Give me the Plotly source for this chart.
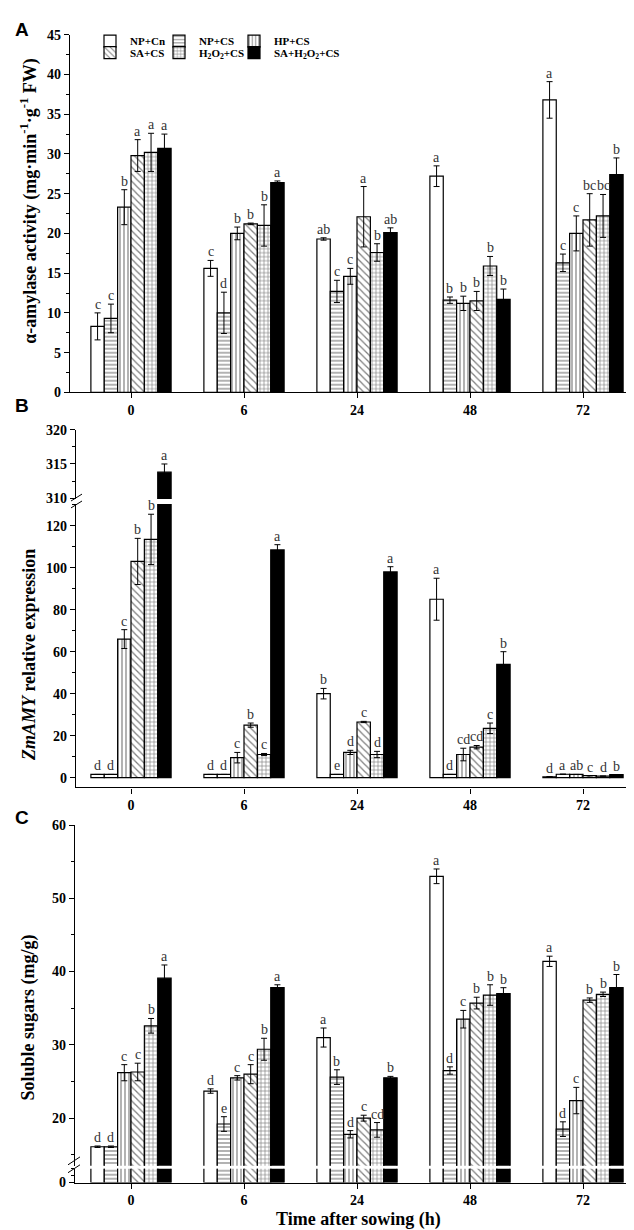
import plotly.graph_objects as go

# ---------------- data ----------------
times = ["0", "6", "24", "48", "72"]
treatments = ["NP+Cn", "NP+CS", "HP+CS", "SA+CS",
              "H<sub>2</sub>O<sub>2</sub>+CS", "SA+H<sub>2</sub>O<sub>2</sub>+CS"]

# Panel A: alpha-amylase activity (mg.min-1.g-1 FW)
amy_np_cn = [8.3, 15.6, 19.3, 27.2, 36.8]
amy_np_cs = [9.3, 10.0, 12.7, 11.6, 16.3]
amy_hp_cs = [23.3, 20.0, 14.6, 11.2, 20.0]
amy_sa_cs = [29.8, 21.2, 22.1, 11.5, 21.7]
amy_h2o2_cs = [30.2, 21.0, 17.6, 15.9, 22.2]
amy_sa_h2o2_cs = [30.7, 26.4, 20.1, 11.7, 27.4]
amy_err_np_cn = [1.7, 1.0, 0.15, 1.3, 2.3]
amy_err_np_cs = [1.8, 2.6, 1.4, 0.4, 1.1]
amy_err_hp_cs = [2.2, 0.8, 1.0, 0.9, 2.2]
amy_err_sa_cs = [2.0, 0.1, 3.8, 1.2, 3.3]
amy_err_h2o2_cs = [2.4, 2.6, 1.1, 1.2, 2.7]
amy_err_sa_h2o2_cs = [1.8, 0.2, 0.6, 1.3, 2.1]
amy_let_np_cn = ["c", "c", "ab", "a", "a"]
amy_let_np_cs = ["c", "d", "c", "b", "c"]
amy_let_hp_cs = ["b", "b", "c", "b", "c"]
amy_let_sa_cs = ["a", "b", "a", "b", "bc"]
amy_let_h2o2_cs = ["a", "b", "b", "b", "bc"]
amy_let_sa_h2o2_cs = ["a", "a", "ab", "b", "b"]

# Panel B: ZmAMY relative expression
zm_np_cn = [1.5, 1.5, 40.0, 85.0, 0.4]
zm_np_cs = [1.5, 1.5, 1.5, 1.5, 1.6]
zm_hp_cs = [66.0, 9.5, 12.0, 11.0, 1.5]
zm_sa_cs = [103.0, 25.0, 26.5, 14.5, 0.9]
zm_h2o2_cs = [113.5, 11.0, 11.0, 23.5, 0.7]
zm_sa_h2o2_cs = [313.8, 108.5, 98.0, 54.0, 1.4]
zm_err_np_cn = [0.0, 0.0, 2.5, 10.0, 0.0]
zm_err_np_cs = [0.0, 0.0, 0.0, 0.0, 0.0]
zm_err_hp_cs = [4.5, 2.5, 1.0, 3.0, 0.0]
zm_err_sa_cs = [11.0, 1.0, 0.3, 0.8, 0.0]
zm_err_h2o2_cs = [12.0, 0.5, 1.5, 2.5, 0.0]
zm_err_sa_h2o2_cs = [1.2, 2.5, 2.5, 6.0, 0.0]
zm_let_np_cn = ["d", "d", "b", "a", "d"]
zm_let_np_cs = ["d", "d", "e", "d", "a"]
zm_let_hp_cs = ["c", "c", "d", "cd", "ab"]
zm_let_sa_cs = ["b", "b", "c", "cd", "c"]
zm_let_h2o2_cs = ["b", "c", "d", "c", "d"]
zm_let_sa_h2o2_cs = ["a", "a", "a", "b", "b"]

# Panel C: soluble sugars (mg/g)
ss_np_cn = [16.1, 23.7, 31.0, 53.0, 41.4]
ss_np_cs = [16.1, 19.2, 25.6, 26.5, 18.5]
ss_hp_cs = [26.2, 25.5, 17.8, 33.5, 22.4]
ss_sa_cs = [26.3, 26.0, 20.0, 35.7, 36.1]
ss_h2o2_cs = [32.6, 29.4, 18.4, 36.8, 36.9]
ss_sa_h2o2_cs = [39.1, 37.8, 25.5, 37.0, 37.8]
ss_err_np_cn = [0.1, 0.3, 1.3, 1.0, 0.7]
ss_err_np_cs = [0.1, 1.0, 1.0, 0.5, 1.0]
ss_err_hp_cs = [1.1, 0.3, 0.5, 1.2, 1.8]
ss_err_sa_cs = [1.2, 1.3, 0.4, 0.8, 0.3]
ss_err_h2o2_cs = [1.0, 1.5, 1.0, 1.4, 0.3]
ss_err_sa_h2o2_cs = [1.8, 0.4, 0.2, 0.8, 1.8]
ss_let_np_cn = ["d", "d", "a", "a", "a"]
ss_let_np_cs = ["d", "e", "b", "d", "d"]
ss_let_hp_cs = ["c", "c", "d", "c", "c"]
ss_let_sa_cs = ["c", "c", "c", "b", "b"]
ss_let_h2o2_cs = ["b", "b", "cd", "b", "b"]
ss_let_sa_h2o2_cs = ["a", "a", "b", "b", "b"]

amy = [amy_np_cn, amy_np_cs, amy_hp_cs, amy_sa_cs, amy_h2o2_cs, amy_sa_h2o2_cs]
amy_err = [amy_err_np_cn, amy_err_np_cs, amy_err_hp_cs, amy_err_sa_cs, amy_err_h2o2_cs, amy_err_sa_h2o2_cs]
amy_let = [amy_let_np_cn, amy_let_np_cs, amy_let_hp_cs, amy_let_sa_cs, amy_let_h2o2_cs, amy_let_sa_h2o2_cs]
zm = [zm_np_cn, zm_np_cs, zm_hp_cs, zm_sa_cs, zm_h2o2_cs, zm_sa_h2o2_cs]
zm_err = [zm_err_np_cn, zm_err_np_cs, zm_err_hp_cs, zm_err_sa_cs, zm_err_h2o2_cs, zm_err_sa_h2o2_cs]
zm_let = [zm_let_np_cn, zm_let_np_cs, zm_let_hp_cs, zm_let_sa_cs, zm_let_h2o2_cs, zm_let_sa_h2o2_cs]
ss = [ss_np_cn, ss_np_cs, ss_hp_cs, ss_sa_cs, ss_h2o2_cs, ss_sa_h2o2_cs]
ss_err = [ss_err_np_cn, ss_err_np_cs, ss_err_hp_cs, ss_err_sa_cs, ss_err_h2o2_cs, ss_err_sa_h2o2_cs]
ss_let = [ss_let_np_cn, ss_let_np_cs, ss_let_hp_cs, ss_let_sa_cs, ss_let_h2o2_cs, ss_let_sa_h2o2_cs]

# ---------------- styles ----------------
W, H = 634, 1230
SERIF = "Liberation Serif"
BARGAP = 0.29
NSER = 6
BW = (1 - BARGAP) / NSER
xpos = list(range(len(times)))

fills = [
    dict(color="white", pattern=dict(shape="")),
    dict(color="white", pattern=dict(shape="-", fgcolor="black", bgcolor="white", size=4, solidity=0.3)),
    dict(color="white", pattern=dict(shape="|", fgcolor="black", bgcolor="white", size=4, solidity=0.3)),
    dict(color="white", pattern=dict(shape="\\", fgcolor="black", bgcolor="white", size=5, solidity=0.25)),
    dict(color="white", pattern=dict(shape="+", fgcolor="black", bgcolor="white", size=4, solidity=0.3)),
    dict(color="black", pattern=dict(shape="")),
]
legend_names = ["legend", "legend2", "legend3", "legend4", "legend5", "legend6"]

fig = go.Figure()
annotations = []


def add_panel(means, errs, lets, xa, ya, yrange, legend=False):
    for i in range(NSER):
        m = dict(fills[i])
        m["line"] = dict(color="black", width=1.2)
        tr = dict(
            x=xpos, y=means[i], name=treatments[i], marker=m,
            xaxis=xa, yaxis=ya,
            error_y=dict(type="data", array=errs[i], visible=True,
                         color="black", thickness=1, width=3),
            showlegend=legend,
        )
        if legend:
            tr["legend"] = legend_names[i]
        fig.add_trace(go.Bar(**tr))
        for k in range(len(times)):
            top = means[i][k] + errs[i][k]
            if yrange[0] < top < yrange[1]:
                annotations.append(dict(
                    x=xpos[k] + (i - (NSER - 1) / 2) * BW, y=top,
                    xref=xa, yref=ya, text=lets[i][k],
                    showarrow=False, yanchor="bottom", yshift=-1,
                    font=dict(family=SERIF, size=14, color="#333"),
                ))


A_RANGE = [0, 45]
B_UP = [309.86, 320]
B_LO = [-4.7, 130.4]
C_UP = [13.5, 60]
C_LO = [0, 2]

add_panel(amy, amy_err, amy_let, "x", "y", A_RANGE, legend=True)
add_panel(zm, zm_err, zm_let, "x2", "y2", B_UP)
add_panel(zm, zm_err, zm_let, "x2", "y3", B_LO)
add_panel(ss, ss_err, ss_let, "x3", "y4", C_UP)
add_panel(ss, ss_err, ss_let, "x3", "y5", C_LO)


def px_y(p):
    return 1 - p / H


def px_x(p):
    return p / W


CAT0, CATSTEP = 123, 113


def xr(left):
    return [(left - CAT0) / CATSTEP, (W - CAT0) / CATSTEP]


tickfont = dict(family=SERIF, size=14, color="black", weight="bold")

xbase = dict(showline=True, linecolor="black", linewidth=1.2, ticks="outside",
             ticklen=5, tickcolor="black", tickvals=xpos, ticktext=times,
             tickfont=tickfont, showgrid=False, zeroline=False)
ybase = dict(showline=True, linecolor="black", linewidth=1.2, ticks="outside",
             ticklen=5, tickcolor="black", tickfont=tickfont, showgrid=False,
             zeroline=False)

layout_axes = dict(
    xaxis=dict(xbase, domain=[px_x(62), 1], range=xr(62), anchor="y"),
    yaxis=dict(ybase, domain=[px_y(382), px_y(20)], range=A_RANGE, anchor="x",
               tickvals=list(range(0, 46, 5)),
               minor=dict(dtick=2.5, tick0=0, ticks="outside", ticklen=3, tickcolor="black")),
    xaxis2=dict(xbase, domain=[px_x(68), 1], range=xr(68), anchor="y3"),
    yaxis2=dict(ybase, domain=[px_y(490), px_y(420)], range=B_UP, anchor="x2",
                tickvals=[310, 315, 320],
                minor=dict(dtick=2.5, tick0=310, ticks="outside", ticklen=3, tickcolor="black")),
    yaxis3=dict(ybase, domain=[px_y(782), px_y(495)], range=B_LO, anchor="x2",
                tickvals=list(range(0, 121, 20)),
                minor=dict(dtick=10, tick0=0, ticks="outside", ticklen=3, tickcolor="black")),
    xaxis3=dict(xbase, domain=[px_x(67), 1], range=xr(67), anchor="y5"),
    yaxis4=dict(ybase, domain=[px_y(1165), px_y(820)], range=C_UP, anchor="x3",
                tickvals=list(range(20, 61, 10)),
                minor=dict(dtick=5, tick0=0, ticks="outside", ticklen=3, tickcolor="black")),
    yaxis5=dict(ybase, domain=[px_y(1182), px_y(1168)], range=C_LO, anchor="x3",
                tickvals=[0],
                minor=dict(dtick=1, tick0=0, ticks="outside", ticklen=3, tickcolor="black")),
)

titlefont = dict(family=SERIF, size=18, color="black", weight="bold")
annotations += [
    dict(text="α-amylase activity (mg·min<sup>-1</sup>·g<sup>-1</sup> FW)", x=px_x(21), y=px_y(188),
         xref="paper", yref="paper", textangle=-90, showarrow=False, font=titlefont,
         xanchor="center", yanchor="middle"),
    dict(text="<i>ZmAMY</i> relative expression", x=px_x(21), y=px_y(648),
         xref="paper", yref="paper", textangle=-90, showarrow=False, font=titlefont,
         xanchor="center", yanchor="middle"),
    dict(text="Soluble sugars (mg/g)", x=px_x(21), y=px_y(1015),
         xref="paper", yref="paper", textangle=-90, showarrow=False, font=titlefont,
         xanchor="center", yanchor="middle"),
    dict(text="Time after sowing (h)", x=px_x(350), y=px_y(1219),
         xref="paper", yref="paper", showarrow=False, xanchor="center", yanchor="middle",
         font=dict(family=SERIF, size=18, color="black", weight="bold")),
]
for lab, yy in [("A", 15), ("B", 395), ("C", 812)]:
    annotations.append(dict(text=lab, x=px_x(14), y=px_y(yy), xref="paper", yref="paper",
                            showarrow=False, xanchor="center", yanchor="middle",
                            font=dict(family="Liberation Sans", size=19, color="black", weight="bold")))

# axis break marks
shapes = []
for (x0, y0, x1, y1) in [(63, 492, 74, 485), (63, 499, 74, 492),
                         (60, 1164, 72, 1156), (60, 1172, 72, 1164)]:
    shapes.append(dict(type="line", xref="paper", yref="paper",
                       x0=px_x(x0), y0=px_y(y0), x1=px_x(x1), y1=px_y(y1),
                       line=dict(color="black", width=1)))

legfont = dict(family=SERIF, size=11, color="black", weight="bold")
leg_cols = [82, 151, 226]
leg_rows = [26.5, 38]
legends = {}
for i, ln in enumerate(legend_names):
    legends[ln] = dict(orientation="h", x=px_x(leg_cols[i % 3]), y=px_y(leg_rows[i // 3]),
                       xanchor="left", yanchor="middle", font=legfont,
                       bgcolor="rgba(0,0,0,0)", itemwidth=30)

fig.update_layout(
    width=W, height=H, margin=dict(l=0, r=0, t=0, b=0),
    paper_bgcolor="white", plot_bgcolor="white",
    barmode="group", bargap=BARGAP, bargroupgap=0,
    font=dict(family=SERIF, color="black"),
    annotations=annotations, shapes=shapes,
    **legends,
    **layout_axes,
)

fig.write_html("out.html")
